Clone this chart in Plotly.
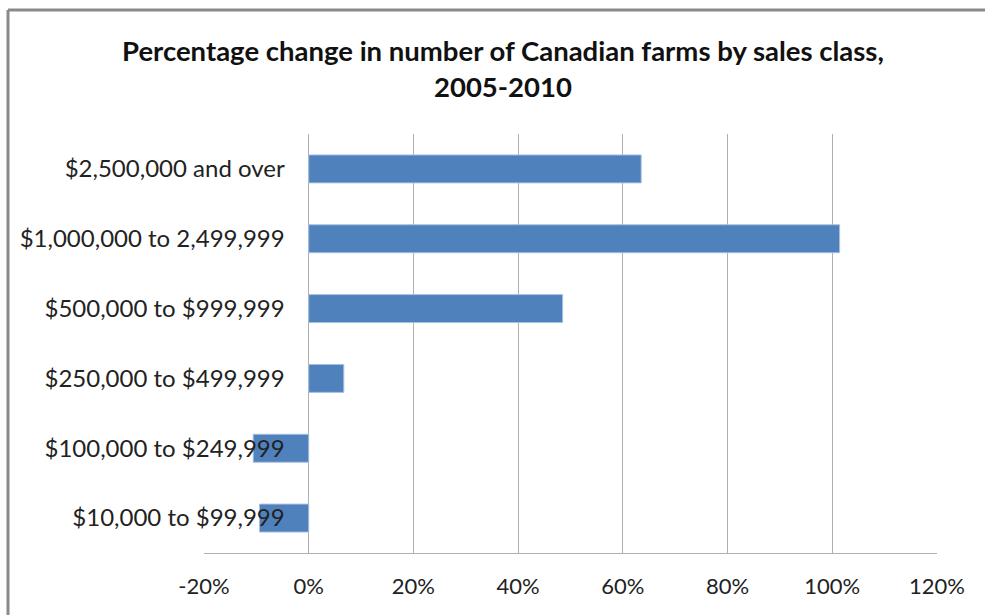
import plotly.graph_objects as go

# Sales classes (top to bottom) and percentage change 2005-2010
sales_classes = [
    "$2,500,000 and over",
    "$1,000,000 to 2,499,999",
    "$500,000 to $999,999",
    "$250,000 to $499,999",
    "$100,000 to $249,999",
    "$10,000 to $99,999",
]
pct_change = [63.5, 101.4, 48.5, 6.7, -10.6, -9.4]

x_ticks = [-20, 0, 20, 40, 60, 80, 100, 120]
x_tick_text = ["-20%", "0%", "20%", "40%", "60%", "80%", "100%", "120%"]

W, H = 985, 615
ML, MR, MT, MB = 204, 48, 134, 62
PW, PH = W - ML - MR, H - MT - MB
XMIN, XMAX = -20, 120

def px_to_paper_x(px):
    return (px - ML) / PW

def px_to_paper_y(py):
    return (H - MB - py) / PH

font_family = "Lato, 'Open Sans', sans-serif"

fig = go.Figure(
    go.Bar(
        x=pct_change,
        y=sales_classes,
        orientation="h",
        marker=dict(color="#4f81bd", line=dict(color="#a7c0e0", width=1)),
        width=0.4,
    )
)

border = dict(color="#8a8a8a", width=3)

fig.update_layout(
    width=W,
    height=H,
    margin=dict(l=ML, r=MR, t=MT, b=MB),
    paper_bgcolor="white",
    plot_bgcolor="white",
    showlegend=False,
    font=dict(family=font_family, color="#222222", size=24),
    xaxis=dict(
        range=[XMIN, XMAX],
        tickvals=x_ticks,
        ticktext=x_tick_text,
        showgrid=True,
        gridcolor="#b0b0b0",
        gridwidth=1,
        zeroline=False,
        showline=True,
        linecolor="#b0b0b0",
        linewidth=1,
        ticks="",
        ticklabelstandoff=14,
        tickfont=dict(size=22),
        fixedrange=True,
    ),
    yaxis=dict(
        categoryorder="array",
        categoryarray=sales_classes[::-1],
        anchor="free",
        position=(0 - XMIN) / (XMAX - XMIN),
        showgrid=False,
        zeroline=False,
        showline=False,
        ticks="",
        ticklabelstandoff=24,
        tickfont=dict(size=24),
        fixedrange=True,
    ),
    annotations=[
        dict(
            text="<b>Percentage change in number of Canadian farms by sales class,</b><br><b>2005-2010</b>",
            xref="paper",
            yref="paper",
            x=px_to_paper_x(503),
            y=px_to_paper_y(68),
            xanchor="center",
            yanchor="middle",
            showarrow=False,
            align="center",
            font=dict(size=27.5, family=font_family, color="#111111"),
        )
    ],
    shapes=[
        # chart frame: top and left edges
        dict(type="line", xref="paper", yref="paper",
             x0=px_to_paper_x(8), x1=px_to_paper_x(985),
             y0=px_to_paper_y(10), y1=px_to_paper_y(10), line=border),
        dict(type="line", xref="paper", yref="paper",
             x0=px_to_paper_x(8), x1=px_to_paper_x(8),
             y0=px_to_paper_y(10), y1=px_to_paper_y(615), line=border),
    ],
)

fig.write_html("out.html", config={"displayModeBar": False})
